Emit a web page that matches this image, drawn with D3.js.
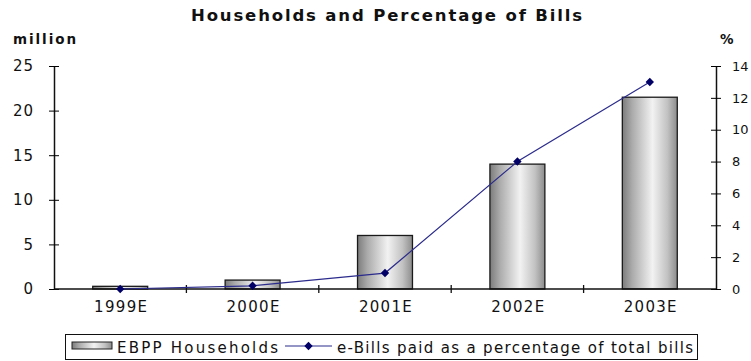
<!DOCTYPE html>
<html>
<head>
<meta charset="utf-8">
<script src="https://cdn.jsdelivr.net/npm/d3@7"></script>
<style>
  html, body { margin: 0; padding: 0; background: #fff; }
  svg { display: block; }
  text { font-family: "DejaVu Sans", "Liberation Sans", Arial, sans-serif; fill: #111; }
</style>
</head>
<body>
<svg id="chart" width="751" height="361"></svg>
<script>
// Chart data
const categories = ["1999E", "2000E", "2001E", "2002E", "2003E"];
const households = [0.3, 1.0, 6.0, 14.0, 21.5];        // million
const billPercent = [0.0, 0.2, 1.0, 8.0, 13.0];        // %
const leftTicks = [0, 5, 10, 15, 20, 25];
const rightTicks = [0, 2, 4, 6, 8, 10, 12, 14];
const titleText = "Households and Percentage of Bills";
const seriesNames = ["EBPP Households", "e-Bills paid as a percentage of total bills"];

const svg = d3.select("#chart");
const plot = { left: 54, right: 716, top: 66, bottom: 289 };

// Scales
const xBand = d3.scaleBand().domain(categories).range([plot.left, plot.right])
  .paddingInner(0.585).paddingOuter(0.2925);
const xCell = d3.scaleBand().domain(categories).range([plot.left, plot.right]).padding(0);
const yLeft = d3.scaleLinear().domain([0, 25]).range([plot.bottom, plot.top]);
const yRight = d3.scaleLinear().domain([0, 14]).range([plot.bottom, plot.top]);

// Cylinder-style shading for the bars
const defs = svg.append("defs");
const grad = defs.append("linearGradient").attr("id", "barShade")
  .attr("x1", "0%").attr("x2", "100%").attr("y1", "0%").attr("y2", "0%");
[["0%", "#7c7c7c"], ["18%", "#ababab"], ["55%", "#f2f2f2"], ["82%", "#c2c2c2"], ["100%", "#8c8c8c"]]
  .forEach(([o, c]) => grad.append("stop").attr("offset", o).attr("stop-color", c));

// Title and axis unit labels
svg.append("text").attr("x", 191).attr("y", 21)
  .attr("textLength", 391).attr("lengthAdjust", "spacing")
  .style("font-weight", "bold").style("font-size", "16.5px").text(titleText);
svg.append("text").attr("x", 13).attr("y", 44)
  .attr("textLength", 63).attr("lengthAdjust", "spacing")
  .style("font-weight", "bold").style("font-size", "13.5px").text("million");
svg.append("text").attr("x", 720).attr("y", 44)
  .style("font-weight", "bold").style("font-size", "13.5px").text("%");

// Bars
svg.append("g").selectAll("rect").data(categories).join("rect")
  .attr("x", d => xBand(d))
  .attr("y", (d, i) => yLeft(households[i]))
  .attr("width", xBand.bandwidth())
  .attr("height", (d, i) => yLeft(0) - yLeft(households[i]))
  .attr("fill", "url(#barShade)")
  .attr("stroke", "#1a1a1a").attr("stroke-width", 1.3);

// Left axis with ticks crossing the line
const gl = svg.append("g").attr("transform", `translate(${plot.left},0)`)
  .call(d3.axisLeft(yLeft).tickValues(leftTicks).tickSize(5).tickSizeOuter(0).tickPadding(16));
gl.selectAll(".tick line").attr("x1", 5).attr("x2", -5);
gl.select(".domain").attr("stroke", "#111").attr("stroke-width", 1.5);
gl.selectAll(".tick text").style("font-size", "15px").style("font-family", "DejaVu Sans")
  .attr("letter-spacing", "1px").attr("dx", "1px");

// Right axis (labels kept inside the canvas)
const gr = svg.append("g").attr("transform", `translate(${plot.right},0)`)
  .call(d3.axisRight(yRight).tickValues(rightTicks).tickSize(5).tickSizeOuter(0).tickPadding(11));
gr.selectAll(".tick line").attr("x1", -5).attr("x2", 5);
gr.select(".domain").attr("stroke", "#111").attr("stroke-width", 1.5);
gr.selectAll(".tick text").style("font-size", "13px").style("font-family", "DejaVu Sans");

// Bottom axis: ticks on category boundaries, labels centred
const gb = svg.append("g").attr("transform", `translate(0,${plot.bottom})`);
gb.append("line").attr("x1", plot.left).attr("x2", plot.right)
  .attr("stroke", "#111").attr("stroke-width", 1.5);
gb.selectAll("line.tick").data(categories.slice(1)).join("line").attr("class", "tick")
  .attr("x1", d => xCell(d)).attr("x2", d => xCell(d))
  .attr("y1", -4).attr("y2", 4).attr("stroke", "#111").attr("stroke-width", 1.3);
gb.selectAll("text").data(categories).join("text")
  .attr("x", d => xCell(d) + xCell.bandwidth() / 2 + 1)
  .attr("y", 23).attr("text-anchor", "middle")
  .attr("letter-spacing", "1.3px")
  .style("font-size", "15px").text(d => d);

// Line series on the right axis
const cx = (d) => xCell(d) + xCell.bandwidth() / 2;
const line = d3.line().x((d, i) => cx(categories[i])).y(d => yRight(d));
svg.append("path").datum(billPercent).attr("d", line)
  .attr("fill", "none").attr("stroke", "#2b2b8c").attr("stroke-width", 1.2);
const diamond = d3.symbol().type(d3.symbolDiamond2).size(45);
svg.append("g").selectAll("path").data(billPercent).join("path")
  .attr("d", diamond)
  .attr("transform", (d, i) => `translate(${cx(categories[i])},${yRight(d)})`)
  .attr("fill", "#000066");

// Legend
const lg = svg.append("g");
lg.append("rect").attr("x", 65.5).attr("y", 334.5).attr("width", 632).attr("height", 25)
  .attr("fill", "#fff").attr("stroke", "#111").attr("stroke-width", 1);
lg.append("rect").attr("x", 72).attr("y", 342).attr("width", 40).attr("height", 7)
  .attr("fill", "url(#barShade)").attr("stroke", "#222").attr("stroke-width", 1);
lg.append("text").attr("x", 117).attr("y", 352.5)
  .attr("textLength", 161).attr("lengthAdjust", "spacing")
  .style("font-size", "15px").text(seriesNames[0]);
lg.append("line").attr("x1", 285).attr("x2", 332).attr("y1", 346).attr("y2", 346)
  .attr("stroke", "#2b2b8c").attr("stroke-width", 1.2);
lg.append("path").attr("d", diamond).attr("transform", "translate(308.5,346)").attr("fill", "#000066");
lg.append("text").attr("x", 337).attr("y", 352.5)
  .attr("textLength", 356).attr("lengthAdjust", "spacing")
  .style("font-size", "15px").text(seriesNames[1]);
</script>
</body>
</html>
